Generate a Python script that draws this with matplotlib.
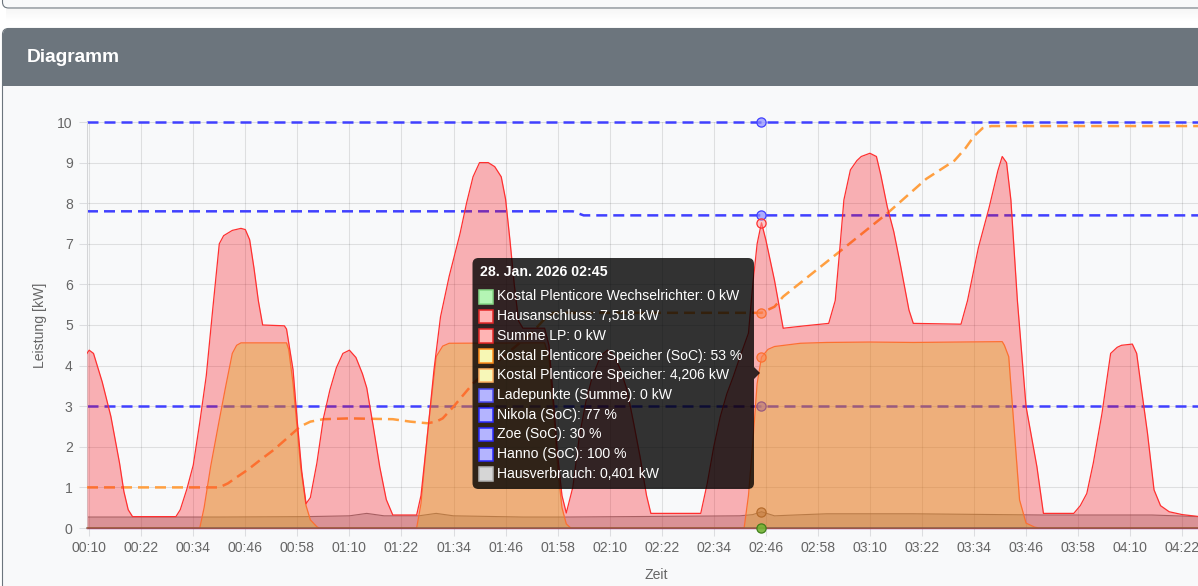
import matplotlib
matplotlib.use('Agg')
import matplotlib.pyplot as plt
import matplotlib.dates as mdates
import matplotlib.transforms as mtransforms
from matplotlib.patches import FancyBboxPatch, Polygon, Rectangle
import pandas as pd
import numpy as np

plt.rcParams['font.family'] = ['Liberation Sans', 'DejaVu Sans']

# ---------------- data ----------------
DAY = '2026-01-28 '
hover_time = '02:45:00'
tooltip_title = '28. Jan. 2026 02:45'

x_tick_labels = ['00:10', '00:22', '00:34', '00:46', '00:58', '01:10', '01:22', '01:34',
                 '01:46', '01:58', '02:10', '02:22', '02:34', '02:46', '02:58', '03:10',
                 '03:22', '03:34', '03:46', '03:58', '04:10', '04:22']
y_ticks = [0, 1, 2, 3, 4, 5, 6, 7, 8, 9, 10]

span_times = ['00:09:30', '02:45:00', '04:33:00']
wechselrichter_kw = [0, 0, 0]
summe_lp_kw = [0, 0, 0]
ladepunkte_kw = [0, 0, 0]
hanno_soc = [100, 100, 100]
zoe_soc = [30, 30, 30]

nikola_times = ['00:09:30', '02:01:30', '02:04:00', '02:45:00', '04:33:00']
nikola_soc = [78, 78, 77, 77, 77]

haus_times = ['00:09:30', '00:10:00', '00:11:00', '00:13:00', '00:15:00', '00:17:00', '00:18:00',
              '00:19:00', '00:20:00', '00:30:00', '00:31:00', '00:32:30', '00:34:00', '00:35:30',
              '00:37:00', '00:38:30', '00:40:00', '00:41:00', '00:43:00', '00:45:00', '00:46:00',
              '00:47:00', '00:48:00', '00:49:00', '00:50:00', '00:55:00', '00:55:30', '00:57:00',
              '00:58:00', '00:59:00', '01:00:00', '01:01:00', '01:02:30', '01:04:00', '01:05:30',
              '01:07:00', '01:08:30', '01:10:00', '01:11:30', '01:13:00', '01:14:00', '01:15:30',
              '01:17:00', '01:18:30', '01:20:00', '01:25:30', '01:26:30', '01:28:00', '01:29:30',
              '01:31:00', '01:33:00', '01:35:30', '01:37:00', '01:38:30', '01:40:00', '01:42:00',
              '01:43:30', '01:45:00', '01:46:00', '01:47:00', '01:48:00', '01:49:00', '01:50:00',
              '01:55:00', '01:56:00', '01:57:00', '01:58:00', '01:59:00', '02:00:00', '02:01:30',
              '02:03:00', '02:04:30', '02:06:00', '02:08:00', '02:09:30', '02:11:00', '02:12:30',
              '02:14:00', '02:15:30', '02:17:00', '02:18:30', '02:19:30', '02:31:00', '02:32:30',
              '02:34:00', '02:35:30', '02:37:00', '02:38:30', '02:40:00', '02:42:00', '02:43:00',
              '02:44:00', '02:45:00', '02:46:00', '02:48:00', '02:50:00', '02:55:00', '03:00:30',
              '03:02:00', '03:03:00', '03:04:00', '03:05:30', '03:07:00', '03:08:00', '03:10:00',
              '03:11:30', '03:12:30', '03:14:00', '03:15:30', '03:17:00', '03:19:00', '03:20:00',
              '03:31:00', '03:32:30', '03:35:00', '03:37:30', '03:39:30', '03:40:30', '03:41:30',
              '03:42:30', '03:44:00', '03:46:00', '03:48:30', '03:50:00', '03:57:00', '03:58:30',
              '04:00:00', '04:01:30', '04:03:30', '04:05:30', '04:07:00', '04:08:00', '04:10:30',
              '04:11:30', '04:12:30', '04:14:00', '04:15:30', '04:17:00', '04:19:00', '04:22:00',
              '04:26:00', '04:33:00']
hausanschluss_kw = [4.30, 4.38, 4.30, 3.60, 2.75, 1.60, 0.90,
                    0.45, 0.28, 0.28, 0.45, 0.95, 1.55, 2.60,
                    3.75, 5.40, 7.00, 7.20, 7.33, 7.38, 7.35,
                    7.10, 6.40, 5.60, 5.00, 4.98, 4.90, 3.90,
                    2.60, 1.40, 0.60, 0.75, 1.60, 2.70, 3.40,
                    3.95, 4.30, 4.38, 4.20, 3.80, 3.45, 2.50,
                    1.50, 0.70, 0.32, 0.32, 0.80, 2.30, 3.90,
                    5.20, 6.20, 7.25, 8.00, 8.65, 9.00, 9.00,
                    8.90, 8.65, 8.10, 7.10, 6.00, 5.10, 4.92,
                    4.92, 4.50, 3.20, 1.80, 0.80, 0.37, 1.00,
                    2.25, 3.10, 3.73, 4.25, 4.38, 4.25, 3.90,
                    3.40, 2.60, 1.76, 0.80, 0.36, 0.36, 1.10,
                    2.00, 2.74, 3.30, 3.73, 4.20, 4.80, 6.00,
                    7.00, 7.518, 7.10, 6.10, 4.92, 4.98, 5.04,
                    5.60, 6.80, 8.08, 8.82, 9.05, 9.15, 9.23,
                    9.15, 8.70, 7.91, 7.30, 6.50, 5.37, 5.04,
                    5.02, 5.60, 6.90, 7.90, 8.80, 9.15, 9.00,
                    8.08, 5.60, 2.99, 1.51, 0.36, 0.36, 0.55,
                    0.85, 1.60, 2.82, 4.30, 4.45, 4.50, 4.53,
                    4.30, 3.50, 2.33, 0.94, 0.55, 0.40, 0.33,
                    0.28, 0.27]

speicher_times = ['00:09:30', '00:35:30', '00:36:30', '00:38:00', '00:40:00', '00:41:30', '00:43:00',
                  '00:44:00', '00:45:00', '00:55:30', '00:56:00', '00:57:00', '00:58:00', '00:58:45',
                  '01:00:00', '01:01:00', '01:02:30', '01:03:00', '01:25:30', '01:26:30', '01:28:00',
                  '01:30:00', '01:31:30', '01:33:00', '01:55:00', '01:56:00', '01:57:00', '01:58:00',
                  '01:59:00', '02:00:00', '02:01:00', '02:41:00', '02:42:00', '02:43:00', '02:44:00',
                  '02:45:00', '02:46:30', '02:48:00', '02:54:00', '03:00:00', '03:10:00', '03:20:00',
                  '03:30:00', '03:40:30', '03:41:00', '03:42:00', '03:43:20', '03:44:30', '03:46:00',
                  '03:48:00', '03:49:00', '04:33:00']
speicher_kw = [0, 0, 0.50, 1.51, 2.66, 3.50, 4.30,
               4.50, 4.56, 4.56, 4.40, 3.56, 2.40, 1.51,
               0.55, 0.20, 0.03, 0, 0, 0.60, 2.33,
               4.22, 4.48, 4.55, 4.56, 4.20, 3.00, 1.50,
               0.50, 0.10, 0, 0, 0.80, 2.10, 3.56,
               4.206, 4.40, 4.47, 4.55, 4.57, 4.58, 4.57,
               4.58, 4.59, 4.50, 4.22, 2.33, 0.69, 0.12,
               0.02, 0, 0]

soc_times = ['00:09:30', '00:40:00', '00:42:00', '00:44:00', '00:46:30', '00:49:30', '00:52:30',
             '00:55:30', '00:58:40', '01:01:00', '01:04:00', '01:10:00', '01:20:00', '01:24:00',
             '01:28:00', '01:30:00', '01:31:30', '01:34:00', '01:38:30', '01:45:00', '01:52:00',
             '01:55:00', '01:57:00', '02:45:00', '02:48:00', '02:50:00', '03:03:30', '03:14:00',
             '03:23:00', '03:29:30', '03:32:00', '03:34:00', '03:36:00', '03:38:00', '04:33:00']
speicher_soc = [10, 10, 11, 12.5, 14.3, 16.8, 19.2,
                22, 25, 26.2, 26.8, 27.0, 26.8, 26.2,
                25.8, 26.2, 27.0, 29.9, 35.6, 41.8, 48.0,
                51.5, 53, 53, 54.5, 57.0, 68.5, 77.5,
                86.0, 90.5, 93.5, 96.5, 98.5, 99.0, 99]

verbrauch_times = ['00:09:30', '00:40:00', '01:00:00', '01:10:00', '01:14:00', '01:18:00', '01:26:00',
                   '01:30:00', '01:34:00', '01:50:00', '02:00:00', '02:40:00', '02:43:00', '02:45:00',
                   '02:48:00', '02:55:00', '03:00:00', '03:20:00', '03:40:00', '03:50:00', '04:15:00',
                   '04:26:00', '04:33:00']
hausverbrauch_kw = [0.27, 0.27, 0.28, 0.30, 0.36, 0.30, 0.30,
                    0.36, 0.30, 0.27, 0.27, 0.30, 0.33, 0.401,
                    0.30, 0.33, 0.35, 0.35, 0.33, 0.32, 0.32,
                    0.28, 0.27]

# ---------------- figure ----------------
W, H = 1198, 586
fig = plt.figure(figsize=(W / 100, H / 100), dpi=100)
fig.patch.set_facecolor('white')

# page / card background
bg = fig.add_axes([0, 0, 1, 1], zorder=-10)
bg.set_xlim(0, W)
bg.set_ylim(H, 0)
bg.axis('off')
bg.add_patch(FancyBboxPatch((2.5, -40), 1240, 48, boxstyle='round,pad=0,rounding_size=6',
                            fc='#f8f9fa', ec='#6c757d', lw=0.8))
for i in range(12):
    bg.add_patch(Rectangle((6, 9 + i), 1240, 1, fc='black', ec='none', alpha=0.035 * (1 - i / 12)))
bg.add_patch(FancyBboxPatch((2.5, 28.5), 1240, 640, boxstyle='round,pad=0,rounding_size=6',
                            fc='#f8f9fa', ec='#6c757d', lw=0.8))
bg.add_patch(FancyBboxPatch((3, 28.5), 1240, 57.5, boxstyle='round,pad=0,rounding_size=6',
                            fc='#6c757d', ec='none'))
bg.add_patch(Rectangle((3, 70), 1240, 16, fc='#6c757d', ec='none'))
bg.text(27, 58, 'Diagramm', color='white', fontsize=13.8, fontweight='bold', va='center', ha='left')

# main axes
left_px, right_px, top_px, bottom_px = 87, 1225, 122, 528
ax = fig.add_axes([left_px / W, (H - bottom_px) / H, (right_px - left_px) / W, (bottom_px - top_px) / H])
ax.set_facecolor('none')

def T(lst):
    return pd.to_datetime([DAY + s for s in lst])

px_per_min = 4.3375
t_start = T(['00:09:30'])[0]
t_end = t_start + pd.Timedelta(minutes=(right_px - left_px) / px_per_min)
ax.set_xlim(t_start, t_end)
ax.set_ylim(0, 10)

ax.set_xticks(T([s + ':00' for s in x_tick_labels]))
ax.set_xticklabels(x_tick_labels)
ax.set_yticks(y_ticks)
ax.set_yticklabels([str(v) for v in y_ticks])
ax.grid(True, color='black', alpha=0.1, lw=0.75)
ax.set_axisbelow(True)
ax.tick_params(axis='both', length=5.8, width=0.75, color='#dcdde0', labelcolor='#666666',
               labelsize=10.1)
ax.tick_params(axis='x', pad=3.5)
ax.tick_params(axis='y', pad=4.5)
for s in ['top', 'right', 'bottom']:
    ax.spines[s].set_visible(False)
ax.spines['left'].set_color('#d4d5d7')
ax.spines['left'].set_linewidth(0.75)

ax.set_ylabel('Leistung [kW]', color='#666666', fontsize=10.1)
ax.yaxis.set_label_coords((40 - left_px) / (right_px - left_px), 0.5)
ax.yaxis.label.set_va('center')
ax.set_xlabel('Zeit', color='#666666', fontsize=10.1)
ax.xaxis.set_label_coords((656 - left_px) / (right_px - left_px), (bottom_px - 575) / (bottom_px - top_px))
ax.xaxis.label.set_va('center')

soc_tr = mtransforms.Affine2D().scale(1, 0.1) + ax.transData
dash = (11 / 2.5, 6 / 2.5)
blue = '#4040ff'
orange = '#ff9f40'
red = '#ff3030'

# Chart.js draws dataset 0 on top -> reverse z order
# 9 Hausverbrauch
tv = T(verbrauch_times)
ax.fill_between(tv, hausverbrauch_kw, 0, color='#646464', alpha=0.28, lw=0, zorder=2.0)
ax.plot(tv, hausverbrauch_kw, color=(0.42, 0.42, 0.42, 0.8), lw=0.8, zorder=2.01)
# 8 Hanno, 7 Zoe, 6 Nikola
ts = T(span_times)
ax.plot(ts, hanno_soc, color=blue, lw=1.8, dashes=dash, transform=soc_tr, zorder=2.1, clip_on=False)
ax.plot(ts, zoe_soc, color=blue, lw=1.8, dashes=dash, transform=soc_tr, zorder=2.2)
tn = T(nikola_times)
ax.plot(tn, nikola_soc, color=blue, lw=1.8, dashes=dash, transform=soc_tr, zorder=2.3)
# 5 Ladepunkte
ax.plot(ts, ladepunkte_kw, color=(0.25, 0.25, 1, 0.6), lw=1.0, zorder=2.4, clip_on=False)
# 4 Speicher
tsp = T(speicher_times)
ax.fill_between(tsp, speicher_kw, 0, color=(208 / 255, 249 / 255, 24 / 255), alpha=0.35, lw=0, zorder=2.5)
ax.plot(tsp, speicher_kw, color=orange, lw=0.9, zorder=2.51)
# 3 Speicher SoC
tsc = T(soc_times)
ax.plot(tsc, speicher_soc, color=orange, lw=1.8, dashes=dash, transform=soc_tr, zorder=2.6)
# 2 Summe LP
ax.plot(ts, summe_lp_kw, color=(1, 0.2, 0.2, 0.6), lw=1.0, zorder=2.7, clip_on=False)
# 1 Hausanschluss
th = T(haus_times)
ax.fill_between(th, hausanschluss_kw, 0, color=(248 / 255, 0, 11 / 255), alpha=0.293, lw=0, zorder=2.8)
ax.plot(th, hausanschluss_kw, color=red, lw=0.9, zorder=2.81)
# 0 Wechselrichter
ax.plot(ts, wechselrichter_kw, color=(0.45, 0.35, 0.25, 0.7), lw=1.2, zorder=2.9, clip_on=False)

# hover markers at the tooltip time
def at(times, vals):
    return vals[times.index(hover_time)]

hx = T([hover_time])
marker_specs = [
    (at(span_times, hanno_soc), soc_tr, (0.55, 0.55, 1, 0.7), blue, 2.1),
    (at(nikola_times, nikola_soc), soc_tr, (0.55, 0.55, 1, 0.7), blue, 2.3),
    (at(span_times, zoe_soc), soc_tr, (0.55, 0.55, 1, 0.7), blue, 2.2),
    (at(speicher_times, speicher_kw), ax.transData, (1, 0.75, 0.45, 0.6), orange, 2.52),
    (at(soc_times, speicher_soc), soc_tr, (1, 0.75, 0.45, 0.6), orange, 2.61),
    (at(haus_times, hausanschluss_kw), ax.transData, (1, 0.6, 0.6, 0.5), red, 2.82),
    (at(verbrauch_times, hausverbrauch_kw), ax.transData, (0.6, 0.5, 0.4, 0.5), (0.5, 0.4, 0.3), 2.02),
    (at(span_times, wechselrichter_kw), ax.transData, (0.45, 0.7, 0.2, 0.9), (0.25, 0.5, 0.1), 2.95),
]
for v, tr, fc, ec, z in marker_specs:
    ax.plot(hx, [v], 'o', ms=6.6, mfc=fc, mec=ec, mew=0.9, transform=tr, zorder=z, clip_on=False)

# tooltip overlay
ov = fig.add_axes([0, 0, 1, 1], zorder=10)
ov.set_xlim(0, W)
ov.set_ylim(H, 0)
ov.axis('off')
ov.patch.set_alpha(0)
ov.add_patch(FancyBboxPatch((472.5, 258), 281.5, 231, boxstyle='round,pad=0,rounding_size=6',
                            fc=(0, 0, 0, 0.8), ec='none'))
ov.add_patch(Polygon([(754, 367), (760, 373), (754, 379)], closed=True, fc=(0, 0, 0, 0.8), ec='none'))
ov.text(480, 271.5, tooltip_title, color='white', fontsize=10.2, fontweight='bold', va='center', ha='left')

def kw(v):
    return '0' if v == 0 else f'{v:.3f}'.replace('.', ',')

def pct(v):
    return f'{v:.0f}'

items = [
    (f'Kostal Plenticore Wechselrichter: {kw(at(span_times, wechselrichter_kw))} kW', '#b4f5b4', '#86d886'),
    (f'Hausanschluss: {kw(at(haus_times, hausanschluss_kw))} kW', '#ffb4b4', '#e62828'),
    (f'Summe LP: {kw(at(span_times, summe_lp_kw))} kW', '#ffb4b4', '#e62828'),
    (f'Kostal Plenticore Speicher (SoC): {pct(at(soc_times, speicher_soc))} %', '#f7f7b4', '#ff8c1a'),
    (f'Kostal Plenticore Speicher: {kw(at(speicher_times, speicher_kw))} kW', '#f7f7b8', '#ffb060'),
    (f'Ladepunkte (Summe): {kw(at(span_times, ladepunkte_kw))} kW', '#b4b4ff', '#4a4af0'),
    (f'Nikola (SoC): {pct(at(nikola_times, nikola_soc))} %', '#b4b4ff', '#2a2aff'),
    (f'Zoe (SoC): {pct(at(span_times, zoe_soc))} %', '#b4b4ff', '#2a2aff'),
    (f'Hanno (SoC): {pct(at(span_times, hanno_soc))} %', '#b4b4ff', '#2a2aff'),
    (f'Hausverbrauch: {kw(at(verbrauch_times, hausverbrauch_kw))} kW', '#d6d6d6', '#b4b4b4'),
]
for i, (label, fc, ec) in enumerate(items):
    y = 296.5 + i * 19.7
    ov.add_patch(Rectangle((479, y - 6.5), 13.5, 13.5, fc=fc, ec=ec, lw=1.1))
    ov.text(497, y, label, color='white', fontsize=10.1, va='center', ha='left')

fig.savefig('out.png', dpi=100, facecolor=fig.get_facecolor())
